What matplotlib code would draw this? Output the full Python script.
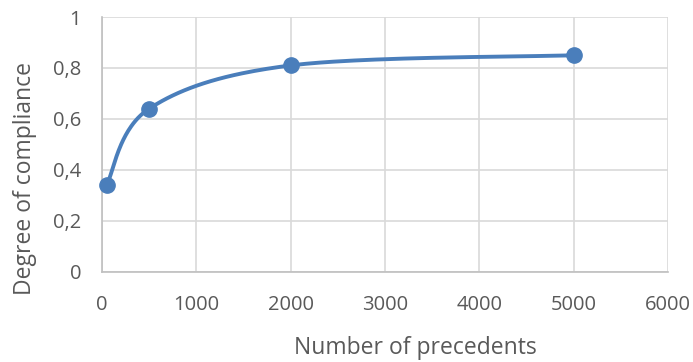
import numpy as np
import matplotlib.pyplot as plt

# data
precedents = [50, 500, 2000, 5000]
compliance = [0.34, 0.64, 0.81, 0.85]
x_ticks = [0, 1000, 2000, 3000, 4000, 5000, 6000]
y_ticks = [0, 0.2, 0.4, 0.6, 0.8, 1.0]

plt.rcParams['font.family'] = ['Open Sans', 'DejaVu Sans']
txt_col = '#595959'
line_col = '#4a7ebb'

fig = plt.figure(figsize=(6.93, 3.62), dpi=100)
ax = fig.add_axes([0.147, 0.249, 0.817, 0.704])
ax.set_xlim(0, 6000)
ax.set_ylim(0, 1)


# excel-like smoothed line: catmull-rom style bezier in display space
def smooth(xs, ys, n=60):
    pts = ax.transData.transform(np.column_stack([xs, ys]))
    p = np.vstack([pts[0], pts, pts[-1]])
    out = []
    t = np.linspace(0, 1, n)[:, None]
    for i in range(1, len(p) - 2):
        p0, p1, p2, p3 = p[i - 1], p[i], p[i + 1], p[i + 2]
        c1 = p1 + (p2 - p0) / 6
        c2 = p2 - (p3 - p1) / 6
        seg = ((1 - t) ** 3) * p1 + 3 * ((1 - t) ** 2) * t * c1 + 3 * (1 - t) * t ** 2 * c2 + t ** 3 * p2
        out.append(seg)
    curve = np.vstack(out)
    return ax.transData.inverted().transform(curve)


curve = smooth(precedents, compliance)
ax.plot(curve[:, 0], curve[:, 1], color=line_col, lw=2.8, solid_capstyle='round', zorder=3)
ax.plot(precedents, compliance, 'o', color=line_col, ms=11, zorder=4, clip_on=False)

ax.set_xticks(x_ticks)
ax.set_yticks(y_ticks)
ax.set_xticklabels([str(v) for v in x_ticks])
ax.set_yticklabels([('%g' % v).replace('.', ',') for v in y_ticks])
ax.grid(True, color='#d9d9d9', lw=1.2)
ax.set_axisbelow(True)
for s in ['top', 'right']:
    ax.spines[s].set_visible(False)
for s in ['left', 'bottom']:
    ax.spines[s].set_color('#bfbfbf')
    ax.spines[s].set_linewidth(1.2)
ax.tick_params(length=0, labelsize=14.5, colors=txt_col)
ax.tick_params(axis='x', pad=17)
ax.tick_params(axis='y', pad=15)

fig.text(0.599, 0.039, 'Number of precedents', fontsize=16.5, color=txt_col,
         ha='center', va='center')
fig.text(0.036, 0.508, 'Degree of compliance', fontsize=16.5, color=txt_col,
         ha='center', va='center', rotation=90)

fig.savefig('out.png', dpi=100)
